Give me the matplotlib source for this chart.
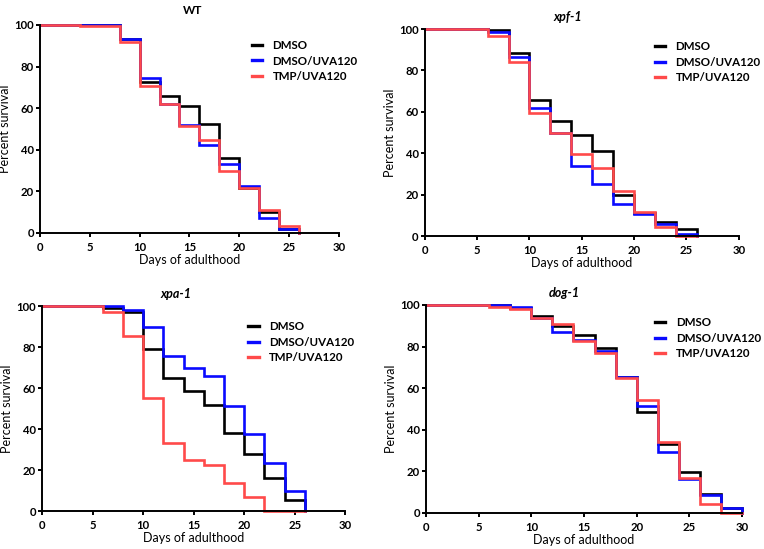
import matplotlib
matplotlib.use('Agg')
import matplotlib.pyplot as plt

plt.rcParams['font.family'] = ['Lato', 'DejaVu Sans']

labels = ['DMSO', 'DMSO/UVA120', 'TMP/UVA120']
colors = ['black', '#0a0aff', '#ff4a4a']

# WT
wt_days = [0, 4, 8, 10, 12, 14, 16, 18, 20, 22, 24, 26]
wt_dmso = [100, 100, 93, 72.8, 66, 61, 52.3, 36, 21.6, 10, 2, 0]
wt_dmso_uva = [100, 100, 93.3, 74.4, 62, 52, 42.4, 33, 22.4, 7, 2, 0]
wt_tmp_uva = [100, 99.4, 92, 70.7, 62, 51.5, 44.5, 30, 21.6, 11, 3.5, 0]

# xpf-1
xpf_days = [0, 6, 8, 10, 12, 14, 16, 18, 20, 22, 24, 26]
xpf_dmso = [100, 99.5, 88.6, 65.7, 55.7, 48.8, 41.2, 20, 11, 6.6, 3.2, 0]
xpf_dmso_uva = [100, 98.4, 86.6, 61.7, 50, 34, 25, 15.3, 10.6, 5.6, 0.8, 0]
xpf_tmp_uva = [100, 96.8, 84.2, 59.6, 50, 39.6, 32.7, 21.7, 11.8, 4.5, 0, 0]

# xpa-1
xpa_days = [0, 6, 8, 10, 12, 14, 16, 18, 20, 22, 24, 26]
xpa_dmso = [100, 99, 97, 78.9, 65, 58.5, 51.9, 38.2, 27.9, 16.3, 5.5, 0]
xpa_dmso_uva = [100, 100, 98.4, 90, 75.6, 69.8, 65.9, 51.5, 37.7, 23.4, 9.8, 0]
xpa_tmp_uva = [100, 97.4, 85.7, 55, 33, 25, 22.3, 13.8, 6.8, 0, 0, 0]

# dog-1
dog_days = [0, 6, 8, 10, 12, 14, 16, 18, 20, 22, 24, 26, 28, 30]
dog_dmso = [100, 100, 98.7, 94.9, 89.9, 85.6, 79.1, 65.5, 48.6, 33, 19.7, 9.3, 2.6, 0]
dog_dmso_uva = [100, 100, 98.9, 93.6, 86.8, 83, 78, 65.5, 51.4, 29.4, 16.2, 8.8, 2.6, 0]
dog_tmp_uva = [100, 98.9, 97.9, 93.9, 90.9, 82.7, 76.7, 64.7, 54.3, 33.9, 17, 4.2, 0, 0]


def draw_panel(ax, title, italic, title_x, days, series, legend_at):
    for vals, lab, col in zip(series, labels, colors):
        ax.step(days, vals, where='post', color=col, lw=1.9, label=lab,
                solid_joinstyle='miter', clip_on=False)
    ax.set_xlim(0, 30)
    ax.set_ylim(0, 100)
    ax.set_xticks(range(0, 31, 5))
    ax.set_yticks(range(0, 101, 20))
    for side in ['top', 'right']:
        ax.spines[side].set_visible(False)
    for side in ['left', 'bottom']:
        ax.spines[side].set_linewidth(1.4)
    ax.tick_params(direction='out', length=3, width=1.4, labelsize=8.2)
    ax.tick_params(axis='x', pad=3.5)
    ax.tick_params(axis='y', pad=1.5)
    for t in ax.get_xticklabels() + ax.get_yticklabels():
        t.set_fontweight('bold')
    ax.set_xlabel('Days of adulthood', fontsize=9, labelpad=1)
    ax.set_ylabel('Percent survival', fontsize=9, labelpad=2)
    if italic:
        ax.set_title(title, fontsize=9, fontweight='bold', fontstyle='italic',
                     x=title_x, pad=6)
    else:
        ax.set_title(title, fontsize=8.5, fontweight='bold', x=title_x, pad=8)
    leg = ax.legend(loc='upper left', bbox_to_anchor=legend_at, frameon=False,
                    handlelength=0.9, handletextpad=0.9, labelspacing=0.4,
                    borderpad=0, borderaxespad=0,
                    prop={'weight': 'bold', 'size': 8.3})
    for line in leg.get_lines():
        line.set_linewidth(2.4)


def main():
    fig = plt.figure(figsize=(7.64, 5.49), dpi=100)
    ax1 = fig.add_axes([0.0524, 0.5756, 0.391, 0.379])
    ax2 = fig.add_axes([0.556, 0.570, 0.411, 0.377])
    ax3 = fig.add_axes([0.055, 0.0692, 0.397, 0.373])
    ax4 = fig.add_axes([0.5576, 0.0656, 0.4136, 0.379])

    draw_panel(ax1, 'WT', False, 0.512, wt_days,
               [wt_dmso, wt_dmso_uva, wt_tmp_uva], (0.709, 0.928))
    draw_panel(ax2, 'xpf-1', True, 0.455, xpf_days,
               [xpf_dmso, xpf_dmso_uva, xpf_tmp_uva], (0.732, 0.942))
    draw_panel(ax3, 'xpa-1', True, 0.442, xpa_days,
               [xpa_dmso, xpa_dmso_uva, xpa_tmp_uva], (0.68, 0.927))
    draw_panel(ax4, 'dog-1', True, 0.437, dog_days,
               [dog_dmso, dog_dmso_uva, dog_tmp_uva], (0.725, 0.942))

    fig.savefig('out.png', dpi=100)


if __name__ == "__main__":
    main()
